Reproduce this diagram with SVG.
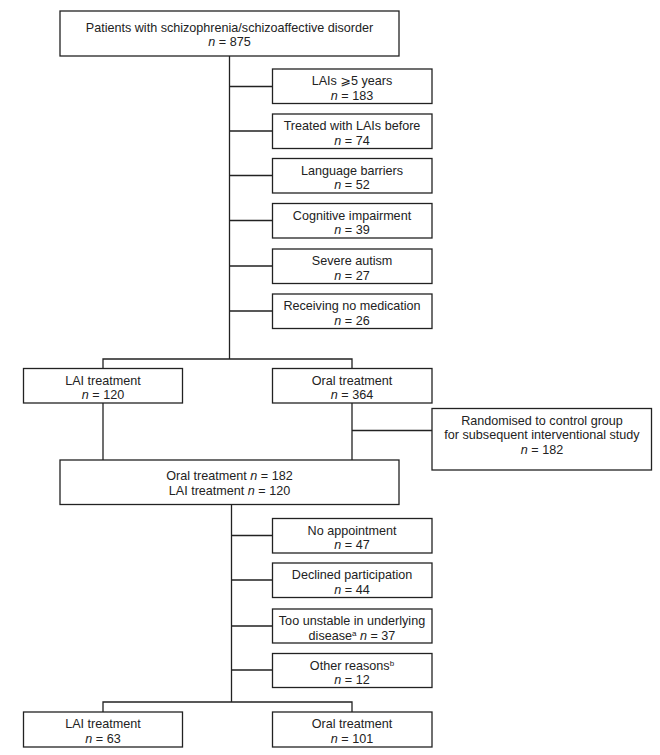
<svg xmlns="http://www.w3.org/2000/svg" width="660" height="755" viewBox="0 0 660 755">
<style>
rect.b{fill:#fff;stroke:#222;stroke-width:1.3}
#connectors path{fill:none;stroke:#222;stroke-width:1.3}
text{font-family:"Liberation Sans","DejaVu Sans",sans-serif;font-size:12.6px;fill:#222;text-anchor:middle}
.i{font-style:italic}
.sup{font-size:8px}
</style>
<rect width="660" height="755" fill="#fff"/>
<g id="connectors">
<path d="M229.5 56V359M229.5 86.5H272.5M229.5 131H272.5M229.5 175.5H272.5M229.5 220.5H272.5M229.5 266H272.5M229.5 311H272.5"/>
<path d="M103 368.5V359H352V368.5"/>
<path d="M103 403V460M352 403V460M352 430.5H432"/>
<path d="M231.5 504V702M231.5 535.5H272.5M231.5 580H272.5M231.5 626H272.5M231.5 670H272.5"/>
<path d="M103 712V702H352V712"/>
</g>
<g id="n-patients"><rect class="b" x="60" y="11" width="339" height="45"/>
<text x="229.5" y="31.5">Patients with schizophrenia/schizoaffective disorder</text>
<text x="229.5" y="46"><tspan class="i">n</tspan> = 875</text></g>
<g id="x-lais5"><rect class="b" x="272.5" y="69" width="159.5" height="34.5"/>
<text x="352" y="85">LAIs ⩾5 years</text><text x="352" y="99.5"><tspan class="i">n</tspan> = 183</text></g>
<g id="x-treated"><rect class="b" x="272.5" y="114" width="159.5" height="34.5"/>
<text x="352" y="130">Treated with LAIs before</text><text x="352" y="144.5"><tspan class="i">n</tspan> = 74</text></g>
<g id="x-language"><rect class="b" x="272.5" y="158.5" width="159.5" height="34.5"/>
<text x="352" y="174.5">Language barriers</text><text x="352" y="189"><tspan class="i">n</tspan> = 52</text></g>
<g id="x-cognitive"><rect class="b" x="272.5" y="203.5" width="159.5" height="34.5"/>
<text x="352" y="219.5">Cognitive impairment</text><text x="352" y="234"><tspan class="i">n</tspan> = 39</text></g>
<g id="x-autism"><rect class="b" x="272.5" y="249" width="159.5" height="34.5"/>
<text x="352" y="265">Severe autism</text><text x="352" y="279.5"><tspan class="i">n</tspan> = 27</text></g>
<g id="x-nomed"><rect class="b" x="272.5" y="294" width="159.5" height="34.5"/>
<text x="352" y="310">Receiving no medication</text><text x="352" y="324.5"><tspan class="i">n</tspan> = 26</text></g>
<g id="lai1"><rect class="b" x="23.5" y="368.5" width="159" height="34.5"/>
<text x="103" y="384.5">LAI treatment</text><text x="103" y="399"><tspan class="i">n</tspan> = 120</text></g>
<g id="oral1"><rect class="b" x="272.5" y="368.5" width="159.5" height="34.5"/>
<text x="352" y="384.5">Oral treatment</text><text x="352" y="399"><tspan class="i">n</tspan> = 364</text></g>
<g id="randomised"><rect class="b" x="432" y="408.5" width="219.5" height="61.5"/>
<text x="542" y="424.5">Randomised to control group</text>
<text x="542" y="439">for subsequent interventional study</text>
<text x="542" y="453.5"><tspan class="i">n</tspan> = 182</text></g>
<g id="combined"><rect class="b" x="60" y="460" width="339" height="44.5"/>
<text x="229.5" y="479.5">Oral treatment <tspan class="i">n</tspan> = 182</text>
<text x="229.5" y="494.5">LAI treatment <tspan class="i">n</tspan> = 120</text></g>
<g id="x-noappt"><rect class="b" x="272.5" y="518.5" width="159.5" height="34.5"/>
<text x="352" y="534.5">No appointment</text><text x="352" y="549"><tspan class="i">n</tspan> = 47</text></g>
<g id="x-declined"><rect class="b" x="272.5" y="563" width="159.5" height="34.5"/>
<text x="352" y="579">Declined participation</text><text x="352" y="593.5"><tspan class="i">n</tspan> = 44</text></g>
<g id="x-unstable"><rect class="b" x="272.5" y="609" width="159.5" height="34"/>
<text x="352" y="625">Too unstable in underlying</text><text x="352" y="639.5">disease<tspan class="sup" dy="-4">a</tspan><tspan dy="4"> </tspan><tspan class="i">n</tspan> = 37</text></g>
<g id="x-other"><rect class="b" x="272.5" y="653.5" width="159.5" height="34"/>
<text x="352" y="669.5">Other reasons<tspan class="sup" dy="-4">b</tspan></text><text x="352" y="684"><tspan class="i">n</tspan> = 12</text></g>
<g id="lai2"><rect class="b" x="23.5" y="712" width="159" height="35"/>
<text x="103" y="728">LAI treatment</text><text x="103" y="742.5"><tspan class="i">n</tspan> = 63</text></g>
<g id="oral2"><rect class="b" x="272.5" y="712" width="159.5" height="35"/>
<text x="352" y="728">Oral treatment</text><text x="352" y="742.5"><tspan class="i">n</tspan> = 101</text></g>
</svg>
